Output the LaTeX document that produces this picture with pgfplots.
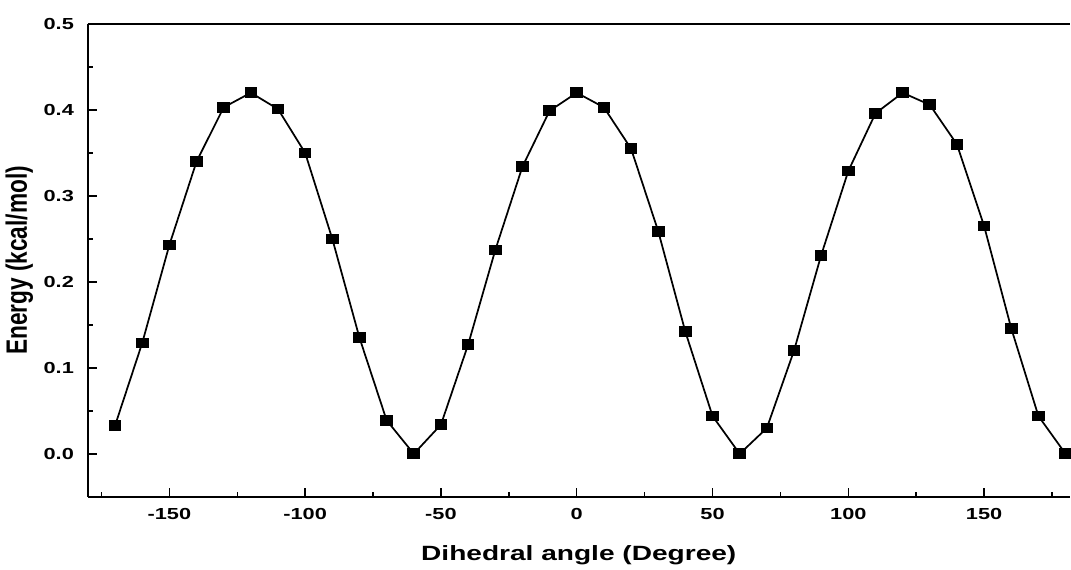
\documentclass[border=0pt]{standalone}
\usepackage{pgfplots}
\pgfplotsset{compat=1.18}
\usepackage{graphicx}
\usepackage{fontspec}
% the reference is stretched sideways, so the horizontal text is too
\setmainfont{Liberation Sans}[FakeStretch=1.36]
\newfontfamily\ylfont{Liberation Sans}
\begin{document}
\begin{tikzpicture}
\begin{axis}[
    scale only axis,
    width=737pt,
    height=355pt,
    xmin=-180, xmax=181.5,
    ymin=-0.05, ymax=0.5,
    axis x line*=box,
    axis y line*=left,
    xtick={-150,-100,...,150},
    minor xtick={-175,-125,...,175},
    ytick={0,0.1,...,0.5},
    minor ytick={0.05,0.15,...,0.45},
    xtick pos=bottom,
    ytick pos=left,
    tick align=inside,
    major tick length=7pt,
    minor tick length=4pt,
    every tick/.style={black, line width=1.1pt},
    axis line style={line width=1.2pt},
    /pgf/number format/assume math mode=true,
    yticklabel style={/pgf/number format/fixed, /pgf/number format/fixed zerofill,
        /pgf/number format/precision=1, xshift=-7pt},
    xticklabel style={yshift=-5pt},
    tick label style={font=\fontsize{12}{14}\selectfont\bfseries},
    xlabel={Dihedral angle (Degree)},
    ylabel={\scalebox{1}[1.3]{\ylfont\bfseries Energy (kcal/mol)}},
    xlabel style={font=\fontsize{15.5}{17}\selectfont\bfseries, yshift=-13pt},
    ylabel style={font=\fontsize{17}{19}\selectfont, yshift=1pt},
]
\addplot[black, line width=1.3pt, mark=square*, mark size=3.4pt, mark options={xscale=1.2}] coordinates {
    (-170,0.033) (-160,0.129) (-150,0.243) (-140,0.340) (-130,0.403)
    (-120,0.420) (-110,0.401) (-100,0.350) (-90,0.250) (-80,0.135)
    (-70,0.039) (-60,0.000) (-50,0.034) (-40,0.127) (-30,0.237)
    (-20,0.334) (-10,0.399) (0,0.420) (10,0.403) (20,0.355)
    (30,0.259) (40,0.142) (50,0.044) (60,0.000) (70,0.030)
    (80,0.120) (90,0.231) (100,0.329) (110,0.396) (120,0.420)
    (130,0.406) (140,0.360) (150,0.265) (160,0.146) (170,0.044)
    (180,0.000)
};
\end{axis}
\path (current axis.north west) -- ++(0,18pt);
\path (current axis.west) -- ++(-66pt,0);
\end{tikzpicture}
\end{document}
